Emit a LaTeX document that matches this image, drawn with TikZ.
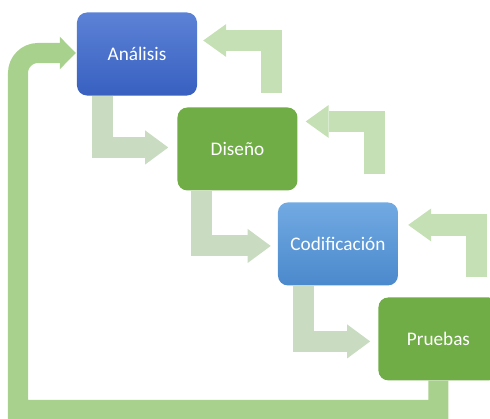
\documentclass[tikz,border=0pt]{standalone}
\usepackage{fontspec}
\setmainfont{Carlito}
\usetikzlibrary{arrows.meta, positioning, calc}

\definecolor{azulTop}{RGB}{92,130,214}
\definecolor{azulBot}{RGB}{56,96,192}
\definecolor{celTop}{RGB}{114,170,226}
\definecolor{celBot}{RGB}{74,137,205}
\definecolor{verdeF}{RGB}{112,173,71}
\definecolor{grisV}{RGB}{201,220,193}
\definecolor{verdeR}{RGB}{197,224,180}
\definecolor{verdeC}{RGB}{169,209,142}

\begin{document}
\begin{tikzpicture}[
    x=0.03cm, y=-0.03cm,
    node distance=0.345cm and -0.6cm,
    fase/.style={rectangle, rounded corners=0.3cm, minimum width=3.6cm, minimum height=2.49cm, inner sep=0pt, text=white, font=\fontsize{16.4}{20}\selectfont},
    azul/.style={fase, top color=azulTop, bottom color=azulBot},
    celeste/.style={fase, top color=celTop, bottom color=celBot},
    verde/.style={fase, fill=verdeF},
    avance/.style={draw=grisV, line width=0.63cm, -{Triangle[length=0.69cm, width=1.02cm, line width=0pt]}},
    retorno/.style={draw=verdeR, line width=0.64cm, -{Triangle[length=0.69cm, width=0.99cm, line width=0pt]}},
    ciclo/.style={draw=verdeC, line width=0.6cm, -{Triangle[length=0.48cm, width=0.98cm, line width=0pt]}}
]
    \useasboundingbox (0,0) rectangle (490,419);

    % fases
    \node[azul] (ana) at (137,54) {Análisis};
    \node[verde, below right=of ana] (dis) {Diseño};
    \node[celeste, below right=of dis] (cod) {Codificación};
    \node[verde, below right=of cod] (pru) {Pruebas};

    % flechas hacia abajo
    \draw[avance] ($(ana.south west)+(25.5,0)$) |- ($(dis.west)+(-9,-1.5)$);
    \draw[avance] ($(dis.south west)+(24.5,0)$) |- ($(cod.west)+(-7,2)$);
    \draw[avance] ($(cod.south west)+(25.5,0)$) |- ($(pru.west)+(-8,2.5)$);

    % flechas de retorno
    \draw[retorno] ($(ana.east)+(74.5,39)$) |- ($(ana.east)+(6,-13.5)$);
    \draw[retorno] ($(dis.east)+(76.5,25.5)$) |- ($(dis.east)+(8,-27.5)$);
    \draw[retorno] ($(cod.east)+(78,33)$) |- ($(cod.east)+(10,-19)$);

    % ciclo completo
    \coordinate (esq) at (18,410);
    \draw[ciclo] (pru.south) |- (esq) [rounded corners=0.6cm] |- ($(ana.west)+(-1,-1)$);
\end{tikzpicture}
\end{document}
